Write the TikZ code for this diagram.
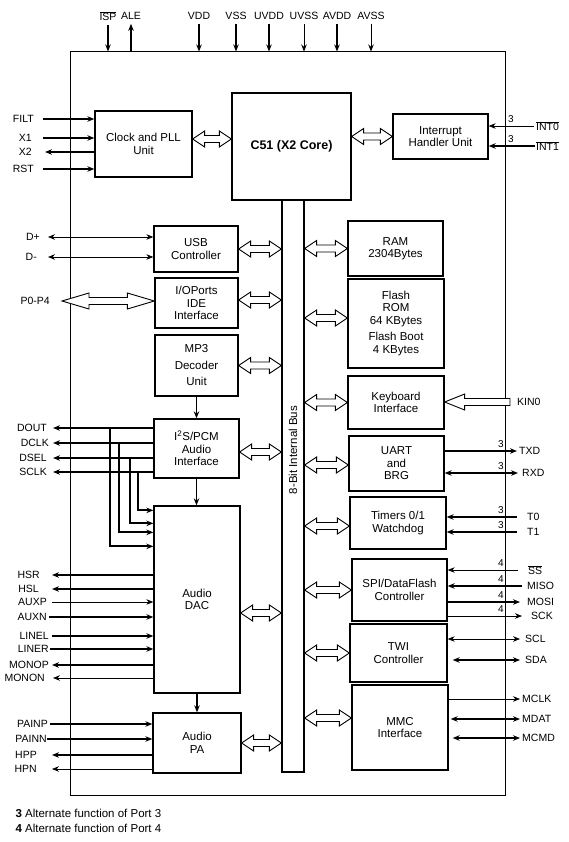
\documentclass[tikz,border=0pt]{standalone}
\usepackage{fontspec}
\setmainfont{Liberation Sans}
\usetikzlibrary{arrows.meta,calc}

\newcommand{\boxfont}{\fontsize{11.5}{12.5}\selectfont}
\newcommand{\pinfont}{\fontsize{10.5}{12}\selectfont}
\newcommand{\corefont}{\fontsize{12.5}{14}\selectfont\bfseries}
\newcommand{\portfont}{\fontsize{10}{11}\selectfont}
\newcommand{\ovl}[1]{$\overline{\mbox{#1}}$}

% hollow bus arrow, y taken from the first point
\newcommand{\fatlink}[3][12pt]{%
  \draw[fatarrow] let \p1=#2, \p2=#3 in
    (\x1,\y1) -- (\x1+#1,\y1+8pt) -- (\x1+#1,\y1+3.5pt) -- (\x2-#1,\y1+3.5pt)
    -- (\x2-#1,\y1+8pt) -- (\x2,\y1) -- (\x2-#1,\y1-8pt) -- (\x2-#1,\y1-3.5pt)
    -- (\x1+#1,\y1-3.5pt) -- (\x1+#1,\y1-8pt) -- cycle;}

\begin{document}
\begin{tikzpicture}[x=1pt, y=-1pt,
  >={Stealth[length=7pt,width=5.5pt]},
  blk/.style={draw, line width=1.3pt, align=center, font=\boxfont, inner sep=1pt},
  lbl/.style={font=\pinfont, inner sep=0pt},
  sig/.style={line width=0.7pt},
  sigb/.style={line width=1.8pt},
  fatarrow/.style={draw, fill=white, line width=0.9pt},
  portno/.style={font=\portfont, inner sep=0pt, anchor=south}]
  \useasboundingbox (0,0) rectangle (569,842);

  % chip outline
  \node[draw, line width=1pt, minimum width=435, minimum height=743, inner sep=0pt] (chip) at (287.5,423.5) {};

  % top pins
  \node[lbl] (isp) at (108,16) {\ovl{ISP}};
  \node[lbl] (ale) at (131,16) {ALE};
  \node[lbl] (vdd) at (199,16) {VDD};
  \node[lbl] (vss) at (236,16) {VSS};
  \node[lbl] (uvdd) at (269,16) {UVDD};
  \node[lbl] (uvss) at (304,16) {UVSS};
  \node[lbl] (avdd) at (337,16) {AVDD};
  \node[lbl] (avss) at (371,16) {AVSS};
  \draw[sigb,->,shorten <=4pt] (isp) -- (isp |- chip.north);
  \draw[sigb,<-,shorten <=4pt] (ale) -- (ale |- chip.north);
  \draw[sigb,->,shorten <=4pt] (vdd) -- (vdd |- chip.north);
  \draw[sigb,->,shorten <=4pt] (vss) -- (vss |- chip.north);
  \draw[sigb,->,shorten <=4pt] (uvdd) -- (uvdd |- chip.north);
  \draw[sig,->,shorten <=4pt] (uvss) -- (uvss |- chip.north);
  \draw[sigb,->,shorten <=4pt] (avdd) -- (avdd |- chip.north);
  \draw[sig,->,shorten <=4pt] (avss) -- (avss |- chip.north);

  % core and bus
  \node[blk, minimum width=97, minimum height=66] (clk) at (143.5,144) {Clock and PLL\\Unit};
  \node[blk, minimum width=119, minimum height=107, font=\corefont] (core) at (291.5,146.5) {C51 (X2 Core)};
  \node[blk, minimum width=95, minimum height=45] (intr) at (440.5,136.5) {Interrupt\\Handler Unit};
  \node[draw, line width=1.3pt, minimum width=22, minimum height=572] (bus) at (293,486) {};
  \node[rotate=90, font=\boxfont] (buslbl) at (293,450) {8-Bit Internal Bus};

  % left column
  \node[blk, minimum width=84, minimum height=46] (usb) at (196,249) {USB\\Controller};
  \node[blk, minimum width=83, minimum height=50] (iop) at (196.5,303) {I/OPorts\\IDE\\Interface};
  \node[blk, minimum width=83, minimum height=61] (mp3) at (196.5,365.5) {MP3\\[4pt]Decoder\\[4pt]Unit};
  \node[blk, minimum width=85, minimum height=59] (i2s) at (196.5,448.5) {I\textsuperscript{2}S/PCM\\Audio\\Interface};
  \node[blk, minimum width=86, minimum height=187] (dac) at (197,599.5) {Audio\\DAC};
  \node[blk, minimum width=88, minimum height=60] (pa) at (197,743) {Audio\\PA};

  % right column
  \node[blk, minimum width=95, minimum height=55] (ram) at (395.5,248.5) {RAM\\2304Bytes};
  \node[blk, minimum width=96, minimum height=89] (flash) at (396,323.5) {Flash\\ROM\\64 KBytes\\[4pt]Flash Boot\\4 KBytes};
  \node[blk, minimum width=96, minimum height=53] (kbd) at (396,402.5) {Keyboard\\Interface};
  \node[blk, minimum width=95, minimum height=55] (uart) at (396.5,463.5) {UART\\and\\BRG};
  \node[blk, minimum width=96, minimum height=52] (tmr) at (398,523) {Timers 0/1\\Watchdog};
  \node[blk, minimum width=95, minimum height=62] (spi) at (399.5,590) {SPI/DataFlash\\Controller};
  \node[blk, minimum width=97, minimum height=58] (twi) at (398.5,653) {TWI\\Controller};
  \node[blk, minimum width=96, minimum height=85] (mmc) at (400,727.5) {MMC\\Interface};

  % internal links
  \fatlink{($(clk.east)+(0,-5)$)}{(core.west)}
  \fatlink{(core.east |- intr.west)}{(intr.west)}
  \fatlink{(usb.east)}{(bus.west)}
  \fatlink{($(iop.east)+(0,-3)$)}{(bus.west)}
  \fatlink{(mp3.east)}{(bus.west)}
  \fatlink{($(i2s.east)+(0,3.5)$)}{(bus.west)}
  \fatlink{($(dac.east)+(0,13.5)$)}{(bus.west)}
  \fatlink{(pa.east)}{(bus.west)}
  \fatlink{(bus.east |- ram.west)}{(ram.west)}
  \fatlink{($(bus.east |- flash.west)+(0,-5.5)$)}{(flash.west)}
  \fatlink{(bus.east |- kbd.west)}{(kbd.west)}
  \fatlink{($(bus.east |- uart.west)+(0,1.5)$)}{(uart.west)}
  \fatlink{($(bus.east |- tmr.west)+(0,3)$)}{(tmr.west)}
  \fatlink{(bus.east |- spi.west)}{(spi.west)}
  \fatlink{(bus.east |- twi.west)}{(twi.west)}
  \fatlink{($(bus.east |- mmc.west)+(0,-9.5)$)}{(mmc.west)}
  \draw[sigb,->] (mp3.south) -- (mp3.south |- i2s.north);
  \draw[sigb,->] (i2s.south) -- (i2s.south |- dac.north);
  \draw[sigb,->] (dac.south) -- (dac.south |- pa.north);

  % clock pins
  \node[lbl, anchor=east] (filt) at (34,119) {FILT};
  \node[lbl, anchor=east] (xone) at (32,138) {X1};
  \node[lbl, anchor=east] (xtwo) at (32,152) {X2};
  \node[lbl, anchor=east] (rst) at (34,169) {RST};
  \draw[sigb,->,shorten <=9pt] (filt) -- (filt -| clk.west);
  \draw[sigb,->,shorten <=11pt] (xone) -- (xone -| clk.west);
  \draw[sigb,<-,shorten <=13pt] (xtwo) -- (xtwo -| clk.west);
  \draw[sigb,->,shorten <=9pt] (rst) -- (rst -| clk.west);

  % usb and ports
  \node[lbl, anchor=east] (dplus) at (40,237) {D+};
  \node[lbl, anchor=east] (dminus) at (37,257) {D-};
  \node[lbl, anchor=east] (pports) at (50,301) {P0-P4};
  \draw[sig,<->,shorten <=8pt] (dplus) -- (dplus -| usb.west);
  \draw[sig,<->,shorten <=11pt] (dminus) -- (dminus -| usb.west);
  \fatlink[27pt]{($(pports.east)+(12,0)$)}{(iop.west)}

  % audio interface pins
  \node[lbl, anchor=east] (dout) at (47,428) {DOUT};
  \node[lbl, anchor=east] (dclk) at (49,443) {DCLK};
  \node[lbl, anchor=east] (dsel) at (47,458) {DSEL};
  \node[lbl, anchor=east] (sclk) at (47,472) {SCLK};
  \draw[sigb,<-,shorten <=6pt] (dout) -- (dout -| i2s.west);
  \draw[sigb,<-,shorten <=4pt] (dclk) -- (dclk -| i2s.west);
  \draw[sigb,<-,shorten <=6pt] (dsel) -- (dsel -| i2s.west);
  \draw[sigb,<-,shorten <=6pt] (sclk) -- (sclk -| i2s.west);
  \coordinate (tapdout) at (110,428);
  \coordinate (tapdclk) at (119,443);
  \coordinate (tapdsel) at (130,458);
  \coordinate (tapsclk) at (138,472);
  \draw[sigb,->] (tapsclk) |- ($(dac.north west)+(0,5)$);
  \draw[sigb,->] (tapdsel) |- ($(dac.north west)+(0,18)$);
  \draw[sigb,->] (tapdclk) |- ($(dac.north west)+(0,27)$);
  \draw[sigb,->] (tapdout) |- ($(dac.north west)+(0,41)$);

  % dac pins
  \node[lbl, anchor=east] (hsr) at (40,575) {HSR};
  \node[lbl, anchor=east] (hsl) at (39,589) {HSL};
  \node[lbl, anchor=east] (auxp) at (47,602) {AUXP};
  \node[lbl, anchor=east] (auxn) at (47,617) {AUXN};
  \node[lbl, anchor=east] (linel) at (49,636) {LINEL};
  \node[lbl, anchor=east] (liner) at (49,649) {LINER};
  \node[lbl, anchor=east] (monop) at (49,665) {MONOP};
  \node[lbl, anchor=east] (monon) at (45,678) {MONON};
  \draw[sigb,<-,shorten <=12pt] (hsr) -- (hsr -| dac.west);
  \draw[sigb,<-,shorten <=13pt] (hsl) -- (hsl -| dac.west);
  \draw[sig,->,shorten <=5pt] (auxp) -- (auxp -| dac.west);
  \draw[sigb,->,shorten <=2pt] (auxn) -- (auxn -| dac.west);
  \draw[sigb,->,shorten <=3pt] (linel) -- (linel -| dac.west);
  \draw[sigb,->,shorten <=1pt] (liner) -- (liner -| dac.west);
  \draw[sigb,<-,shorten <=3pt] (monop) -- (monop -| dac.west);
  \draw[sig,<-,shorten <=8pt] (monon) -- (monon -| dac.west);

  % pa pins
  \node[lbl, anchor=east] (painp) at (48,724) {PAINP};
  \node[lbl, anchor=east] (painn) at (47,739) {PAINN};
  \node[lbl, anchor=east] (hpp) at (37,755) {HPP};
  \node[lbl, anchor=east] (hpn) at (37,769) {HPN};
  \draw[sigb,->,shorten <=2pt] (painp) -- (painp -| pa.west);
  \draw[sigb,->] (painn) -- (painn -| pa.west);
  \draw[sigb,<-,shorten <=15pt] (hpp) -- (hpp -| pa.west);
  \draw[sig,<-,shorten <=15pt] (hpn) -- (hpn -| pa.west);

  % interrupt pins
  \node[lbl, anchor=west] (int0) at (536,126) {\ovl{INT0}};
  \node[lbl, anchor=west] (int1) at (536,146) {\ovl{INT1}};
  \draw[sig,->,shorten <=2pt] (int0) -- (int0 -| intr.east);
  \draw[sigb,->,shorten <=1pt] (int1) -- (int1 -| intr.east);
  \node[portno] (nint0) at (511,123) {3};
  \node[portno] (nint1) at (511,143) {3};

  % keyboard
  \node[lbl, anchor=west] (kin0) at (517,402) {KIN0};
  \draw[fatarrow] let \p1=(kin0.west), \p2=(kin0 -| kbd.east) in
    (\x1-7pt,\y1+3.5pt) -- (\x2+20pt,\y1+3.5pt) -- (\x2+20pt,\y1+8pt) -- (\x2,\y1)
    -- (\x2+20pt,\y1-8pt) -- (\x2+20pt,\y1-3.5pt) -- (\x1-7pt,\y1-3.5pt) -- cycle;

  % uart and timers
  \node[lbl, anchor=west] (txd) at (519,451) {TXD};
  \node[lbl, anchor=west] (rxd) at (522,473) {RXD};
  \node[lbl, anchor=west] (tzero) at (527,517) {T0};
  \node[lbl, anchor=west] (tone) at (527,532) {T1};
  \draw[sigb,<-,shorten <=2pt] (txd) -- (txd -| uart.east);
  \draw[sigb,<->,shorten <=4pt] (rxd) -- (rxd -| uart.east);
  \draw[sigb,->,shorten <=10pt] (tzero) -- (tzero -| tmr.east);
  \draw[sigb,->,shorten <=10pt] (tone) -- (tone -| tmr.east);
  \node[portno] (ntxd) at (501,448) {3};
  \node[portno] (nrxd) at (501,470) {3};
  \node[portno] (ntzero) at (501,514) {3};
  \node[portno] (ntone) at (501,529) {3};

  % spi pins
  \node[lbl, anchor=west] (ss) at (528,570) {\ovl{SS}};
  \node[lbl, anchor=west] (miso) at (527,586) {MISO};
  \node[lbl, anchor=west] (mosi) at (527,602) {MOSI};
  \node[lbl, anchor=west] (sck) at (531,616) {SCK};
  \draw[sig,->,shorten <=10pt] (ss) -- (ss -| spi.east);
  \draw[sigb,->,shorten <=5pt] (miso) -- (miso -| spi.east);
  \draw[sigb,<-,shorten <=7pt] (mosi) -- (mosi -| spi.east);
  \draw[sig,<-,shorten <=9pt] (sck) -- (sck -| spi.east);
  \node[portno] (nss) at (501,567) {4};
  \node[portno] (nmiso) at (501,583) {4};
  \node[portno] (nmosi) at (501,599) {4};
  \node[portno] (nsck) at (501,613) {4};

  % twi and mmc pins
  \node[lbl, anchor=west] (scl) at (525,639) {SCL};
  \node[lbl, anchor=west] (sda) at (525,660) {SDA};
  \node[lbl, anchor=west] (mclk) at (522,699) {MCLK};
  \node[lbl, anchor=west] (mdat) at (522,719) {MDAT};
  \node[lbl, anchor=west] (mcmd) at (522,738) {MCMD};
  \draw[sig,<->,shorten <=5pt] (scl) -- (scl -| twi.east);
  \draw[sigb,<->,shorten <=5pt,shorten >=5pt] (sda) -- (sda -| twi.east);
  \draw[sig,<-,shorten <=2pt] (mclk) -- (mclk -| mmc.east);
  \draw[sigb,<->,shorten <=2pt,shorten >=2pt] (mdat) -- (mdat -| mmc.east);
  \draw[sigb,<->,shorten <=2pt,shorten >=4pt] (mcmd) -- (mcmd -| mmc.east);

  % notes
  \node[anchor=west, font=\boxfont] (note3) at (12,813) {\textbf{3} Alternate function of Port 3};
  \node[anchor=west, font=\boxfont] (note4) at (12,828) {\textbf{4} Alternate function of Port 4};
\end{tikzpicture}
\end{document}
